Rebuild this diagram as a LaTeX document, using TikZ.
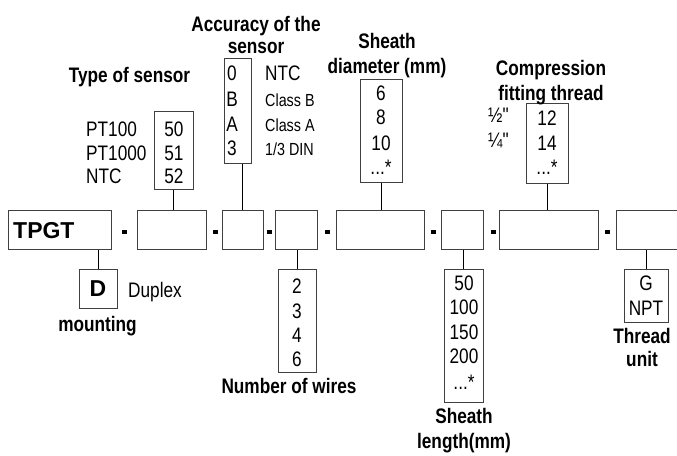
\documentclass[tikz,border=0pt]{standalone}
\usepackage{fontspec}
\setmainfont{Liberation Sans}
\newfontfamily\nar[FakeStretch=0.82]{Liberation Sans}
\begin{document}
\begin{tikzpicture}[x=1pt,y=-1pt,
  obox/.style={draw=black!75,line width=1pt,inner sep=0pt,rectangle},
  val/.style={font=\nar\fontsize{21}{24}\selectfont,inner sep=0pt,anchor=base},
  vall/.style={val,anchor=base west},
  smalll/.style={font=\nar\fontsize{17.5}{20}\selectfont,inner sep=0pt,anchor=base west},
  lbl/.style={font=\nar\bfseries\fontsize{21}{25}\selectfont,inner sep=0pt,anchor=base,align=center},
  big/.style={font=\bfseries\fontsize{23}{26}\selectfont,inner sep=0pt},
  sep/.style={fill=black,minimum width=5pt,minimum height=4pt,inner sep=0pt},
  conn/.style={draw=black,line width=1pt}]
\useasboundingbox (0,0) rectangle (677,455);
\clip (0,0) rectangle (677,455);
\fill[white] (0,0) rectangle (677,455);
% main row
\node[obox,minimum width=103,minimum height=39] (b1) at (59.5,229.5) {};
\node[obox,minimum width=69,minimum height=39] (b2) at (171.5,229.5) {};
\node[obox,minimum width=41,minimum height=39] (b3) at (242.5,229.5) {};
\node[obox,minimum width=42,minimum height=39] (b4) at (296,229.5) {};
\node[obox,minimum width=88,minimum height=39] (b5) at (380,229.5) {};
\node[obox,minimum width=42,minimum height=39] (b6) at (462,229.5) {};
\node[obox,minimum width=99,minimum height=39] (b7) at (548.5,229.5) {};
\node[obox,minimum width=84,minimum height=39] (b8) at (658,229.5) {};
\node[big,anchor=base west] (tpgt) at (13,238) {TPGT};
\node[sep] (s1) at (124,231.5) {};
\node[sep] (s2) at (215,231.5) {};
\node[sep] (s3) at (269,231.5) {};
\node[sep] (s4) at (327,231.5) {};
\node[sep] (s5) at (433,231.5) {};
\node[sep] (s6) at (493,231.5) {};
\node[sep] (s7) at (607,231.5) {};
% top option boxes
\node[obox,minimum width=39,minimum height=78] (ts) at (173.5,150) {};
\node[obox,minimum width=27,minimum height=105] (ac) at (237.5,110.5) {};
\node[obox,minimum width=42,minimum height=103] (sd) at (381,130.5) {};
\node[obox,minimum width=42,minimum height=80] (cf) at (547,143) {};
% bottom option boxes
\node[obox,minimum width=38,minimum height=39] (db) at (98,288.5) {};
\node[obox,minimum width=38,minimum height=103] (wi) at (297,320.5) {};
\node[obox,minimum width=39,minimum height=133] (sl) at (463.5,335.5) {};
\node[obox,minimum width=44,minimum height=53] (tu) at (646,295.5) {};
% connectors
\draw[conn] (ts.south) -- (ts.south |- b2.north);
\draw[conn] (b3.north) -- (b3.north |- ac.south);
\draw[conn] (sd.south) -- (sd.south |- b5.north);
\draw[conn] (cf.south) -- (cf.south |- b7.north);
\draw[conn] (db.north) -- (db.north |- b1.south);
\draw[conn] (wi.north) -- (wi.north |- b4.south);
\draw[conn] (sl.north) -- (sl.north |- b6.south);
\draw[conn] (tu.north) -- (tu.north |- b8.south);
% type of sensor
\node[lbl] (tsl) at (129.5,82) {Type of sensor};
\node[val] (tsv1) at (174,136.5) {50};
\node[val] (tsv2) at (174,160) {51};
\node[val] (tsv3) at (174,183) {52};
\node[vall] (tsn1) at (86,136.5) {PT100};
\node[vall] (tsn2) at (86,160) {PT1000};
\node[vall] (tsn3) at (86,183) {NTC};
% accuracy
\node[lbl,font=\nar\bfseries\fontsize{21}{21.6}\selectfont] (acl) at (256,53.3) {Accuracy of the\\sensor};
\node[val] (acv1) at (232,80) {0};
\node[val] (acv2) at (232,106) {B};
\node[val] (acv3) at (232,131.7) {A};
\node[val] (acv4) at (232,155) {3};
\node[vall] (acn1) at (265,80) {NTC};
\node[smalll] (acn2) at (265,106) {Class B};
\node[smalll] (acn3) at (265,131.7) {Class A};
\node[smalll] (acn4) at (265,155) {1/3 DIN};
% sheath diameter
\node[lbl] (sdl) at (387,73.3) {Sheath\\diameter (mm)};
\node[val] (sdv1) at (381,100) {6};
\node[val] (sdv2) at (381,124) {8};
\node[val] (sdv3) at (381,150) {10};
\node[val] (sdv4) at (381,174.5) {...*};
% compression fitting thread
\node[lbl] (cfl) at (551,100) {Compression\\fitting thread};
\node[val] (cfv1) at (547,125) {12};
\node[val] (cfv2) at (547,150) {14};
\node[val] (cfv3) at (547,174) {...*};
\node[vall] (cfn1) at (488,122) {½"};
\node[vall] (cfn2) at (488,147) {¼"};
% duplex
\node[big] (dv) at (98,288.5) {D};
\node[vall] (dn) at (128,297.3) {Duplex};
\node[lbl] (mtl) at (97.5,331.7) {mounting};
% wires
\node[val] (wiv1) at (297,293.3) {2};
\node[val] (wiv2) at (297,318.3) {3};
\node[val] (wiv3) at (297,342.3) {4};
\node[val] (wiv4) at (297,366.7) {6};
\node[lbl] (nwl) at (289,393.3) {Number of wires};
% sheath length
\node[val] (slv1) at (464,290) {50};
\node[val] (slv2) at (464,314.3) {100};
\node[val] (slv3) at (464,339) {150};
\node[val] (slv4) at (464,363.3) {200};
\node[val] (slv5) at (464,389.5) {...*};
\node[lbl] (sll) at (464,448.3) {Sheath\\length(mm)};
% thread unit
\node[val] (tuv1) at (646,290) {G};
\node[val] (tuv2) at (646,315) {NPT};
\node[lbl,font=\nar\bfseries\fontsize{21}{23.4}\selectfont] (tul) at (642,366.7) {Thread\\unit};
\end{tikzpicture}
\end{document}
